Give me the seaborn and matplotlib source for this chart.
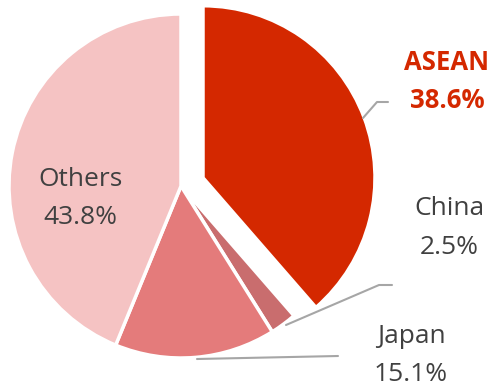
import matplotlib
matplotlib.use("Agg")
import matplotlib.pyplot as plt
import seaborn as sb

# data
regions = ["ASEAN", "China", "Japan", "Others"]
shares = [38.6, 2.5, 15.1, 43.8]
colors = ["#D42800", "#C96D6E", "#E47B7B", "#F5C3C3"]
pulled_out = ["ASEAN"]

W, H = 495, 386

def py(y):  # pixel row -> data y (y axis points up)
    return H - y

def main():
    sb.set_theme(style="white")
    plt.rcParams["font.family"] = ["Open Sans", "DejaVu Sans"]

    fig = plt.figure(figsize=(W / 100, H / 100), dpi=100)
    ax = fig.add_axes([0, 0, 1, 1])

    # explode is in data units when radius != 1
    ax.pie(
        shares,
        colors=colors,
        startangle=90,
        counterclock=False,
        explode=[23.5 if r in pulled_out else 0 for r in regions],
        center=(181, py(186)),
        radius=172,
        wedgeprops=dict(edgecolor="white", linewidth=2.5),
    )
    ax.set_xlim(0, W)
    ax.set_ylim(0, H)
    ax.set_aspect("equal")
    ax.axis("off")

    grey = "#404040"
    line_c = "#A6A6A6"

    # leader lines
    ax.plot([363, 377, 388], [py(118), py(102), py(102)], color=line_c, lw=1.5)
    ax.plot([286, 379, 392], [py(325), py(285), py(285)], color=line_c, lw=1.5)
    ax.plot([197, 338], [py(359), py(356)], color=line_c, lw=1.5)

    # labels: (x center, baseline of name, baseline of percent)
    spots = {
        "ASEAN": (447, 70, 108),
        "China": (449, 215, 254),
        "Japan": (411, 343, 381),
        "Others": (80, 186, 224),
    }
    for name, val in zip(regions, shares):
        x, y1, y2 = spots[name]
        if name == "ASEAN":
            kw = dict(color="#D42800", fontweight="bold", fontsize=18.5)
        else:
            kw = dict(color=grey, fontsize=19)
        ax.text(x, py(y1), name, ha="center", va="baseline", **kw)
        ax.text(x, py(y2), f"{val:.1f}%", ha="center", va="baseline", **kw)

    fig.savefig("out.png", dpi=100)

if __name__ == "__main__":
    main()
